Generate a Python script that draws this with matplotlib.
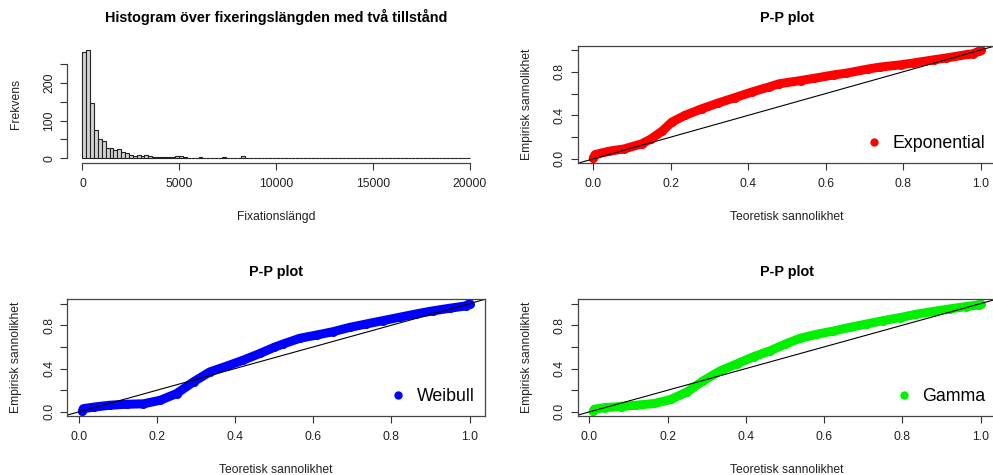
import numpy as np
import matplotlib.pyplot as plt
from matplotlib.lines import Line2D

plt.rcParams['font.family'] = ['Liberation Sans', 'DejaVu Sans']

# Histogram: counts per 200-wide bin from 0 to 20000
bin_width = 200
hist_counts = [281, 287, 146, 75, 52, 47, 27, 27, 22, 26,
               17, 13, 8, 6, 9, 6, 8, 5, 4, 4,
               4, 4, 4, 3, 5, 6, 3, 2, 2, 2,
               3, 2, 1, 2, 1, 2, 3, 2, 1, 1,
               1, 6, 2, 2, 1, 1, 0, 0, 1, 2,
               2, 1, 0, 0, 0, 1, 0, 0, 0, 0,
               0, 1, 0, 0, 2, 0, 0, 0, 0, 0,
               0, 0, 1, 0, 0, 0, 1, 0, 0, 1,
               0, 0, 0, 0, 0, 1, 0, 0, 0, 0,
               0, 0, 0, 0, 0, 0, 0, 0, 0, 1]

exp_theo = [0.0, 0.005, 0.04, 0.08, 0.125, 0.15, 0.178, 0.203, 0.237, 0.28,
            0.323, 0.366, 0.41, 0.453, 0.48, 0.536, 0.57, 0.622, 0.654, 0.709,
            0.74, 0.795, 0.825, 0.881, 0.912, 0.967, 0.98, 0.997, 1.0]
exp_emp = [0.005, 0.04, 0.07, 0.092, 0.138, 0.185, 0.255, 0.338, 0.40, 0.46,
           0.514, 0.563, 0.615, 0.66, 0.69, 0.72, 0.74, 0.772, 0.788, 0.825,
           0.843, 0.865, 0.88, 0.911, 0.927, 0.96, 0.965, 0.99, 1.0]

wei_theo = [0.01, 0.012, 0.04, 0.08, 0.124, 0.166, 0.209, 0.251, 0.294, 0.336,
            0.379, 0.421, 0.464, 0.5, 0.523, 0.566, 0.609, 0.651, 0.694, 0.736,
            0.779, 0.821, 0.864, 0.906, 0.949, 0.991, 1.0]
wei_emp = [0.005, 0.03, 0.045, 0.062, 0.071, 0.075, 0.108, 0.17, 0.278, 0.37,
           0.423, 0.478, 0.54, 0.596, 0.627, 0.68, 0.71, 0.741, 0.781, 0.812,
           0.843, 0.874, 0.905, 0.933, 0.957, 0.979, 1.0]

gam_theo = [0.01, 0.013, 0.04, 0.081, 0.12, 0.166, 0.208, 0.25, 0.29, 0.335,
            0.378, 0.42, 0.463, 0.5, 0.539, 0.581, 0.624, 0.666, 0.709, 0.751,
            0.794, 0.836, 0.879, 0.921, 0.963, 0.997, 1.0]
gam_emp = [0.005, 0.025, 0.04, 0.05, 0.062, 0.078, 0.115, 0.185, 0.285, 0.38,
           0.445, 0.51, 0.566, 0.625, 0.68, 0.717, 0.747, 0.781, 0.812, 0.843,
           0.871, 0.902, 0.927, 0.951, 0.973, 0.988, 1.0]

W, H = 993, 475
fig = plt.figure(figsize=(W / 100, H / 100), dpi=100)


def rect(x0, y0, x1, y1):
    # pixel box (top-left origin) -> figure fraction
    return [x0 / W, (H - y1) / H, (x1 - x0) / W, (y1 - y0) / H]


def r_lim(vals):
    lo, hi = min(vals), max(vals)
    pad = 0.04 * (hi - lo)
    return lo - pad, hi + pad


def style_axes(ax):
    ax.tick_params(direction='out', length=5, width=0.8, color='#333333',
                   labelsize=8.7, labelcolor='#222222', pad=3.5)
    ax.tick_params(axis='x', pad=6)
    for s in ax.spines.values():
        s.set_color('#444444')
        s.set_linewidth(0.9)


# --- Histogram ---
ax = fig.add_axes(rect(67, 45.7, 485, 162.7))
edges = np.arange(len(hist_counts) + 1) * bin_width
ax.bar(edges[:-1], hist_counts, width=bin_width, align='edge',
       color='#d3d3d3', edgecolor='#222222', linewidth=0.8)
ax.set_xlim(r_lim([edges[0], edges[-1]]))
ax.set_ylim(r_lim([0, max(hist_counts)]))
style_axes(ax)
ax.spines['top'].set_visible(False)
ax.spines['right'].set_visible(False)
ax.spines['bottom'].set_bounds(0, 20000)
ax.spines['left'].set_bounds(0, 250)
ax.set_xticks([0, 5000, 10000, 15000, 20000])
ax.set_yticks([0, 50, 100, 150, 200, 250])
ax.set_yticklabels(['0', '', '100', '', '200', ''], rotation=90, va='center')
ax.set_title('Histogram över fixeringslängden med två tillstånd',
             fontsize=10.4, fontweight='bold', pad=17)
ax.set_xlabel('Fixationslängd', fontsize=8.7, labelpad=15, color='#222222')
ax.set_ylabel('Frekvens', fontsize=8.7, labelpad=15, color='#222222')

# --- P-P plots ---
panels = [
    (rect(577.7, 45.7, 996, 162.7), exp_theo, exp_emp, 'red', 'Exponential'),
    (rect(67, 299.3, 485, 415.7), wei_theo, wei_emp, 'blue', 'Weibull'),
    (rect(577.7, 299.3, 996, 415.7), gam_theo, gam_emp, '#00f000', 'Gamma'),
]

for pos, xs, ys, col, name in panels:
    ax = fig.add_axes(pos)
    ax.plot(xs, ys, color=col, lw=6.5, marker='o', ms=6.5, mew=0,
            solid_capstyle='round', solid_joinstyle='round')
    ax.axline((0, 0), (1, 1), color='black', lw=0.8)
    ax.set_xlim(r_lim(xs))
    ax.set_ylim(r_lim(ys))
    style_axes(ax)
    ax.set_xticks([0, 0.2, 0.4, 0.6, 0.8, 1.0])
    ax.set_xticklabels(['0.0', '0.2', '0.4', '0.6', '0.8', '1.0'])
    ax.set_yticks([0, 0.2, 0.4, 0.6, 0.8, 1.0])
    ax.set_yticklabels(['0.0', '', '0.4', '', '0.8', ''], rotation=90, va='center')
    ax.set_title('P-P plot', fontsize=10.4, fontweight='bold', pad=17)
    ax.set_xlabel('Teoretisk sannolikhet', fontsize=8.7, labelpad=15, color='#222222')
    ax.set_ylabel('Empirisk sannolikhet', fontsize=8.7, labelpad=15, color='#222222')
    h = Line2D([], [], ls='', marker='o', color=col, ms=6, mew=0)
    ax.legend([h], [name], loc='lower right', frameon=False, fontsize=12.8,
              handlelength=1.0, handletextpad=0.55, borderaxespad=0.2)

fig.savefig('out.png', dpi=100)
